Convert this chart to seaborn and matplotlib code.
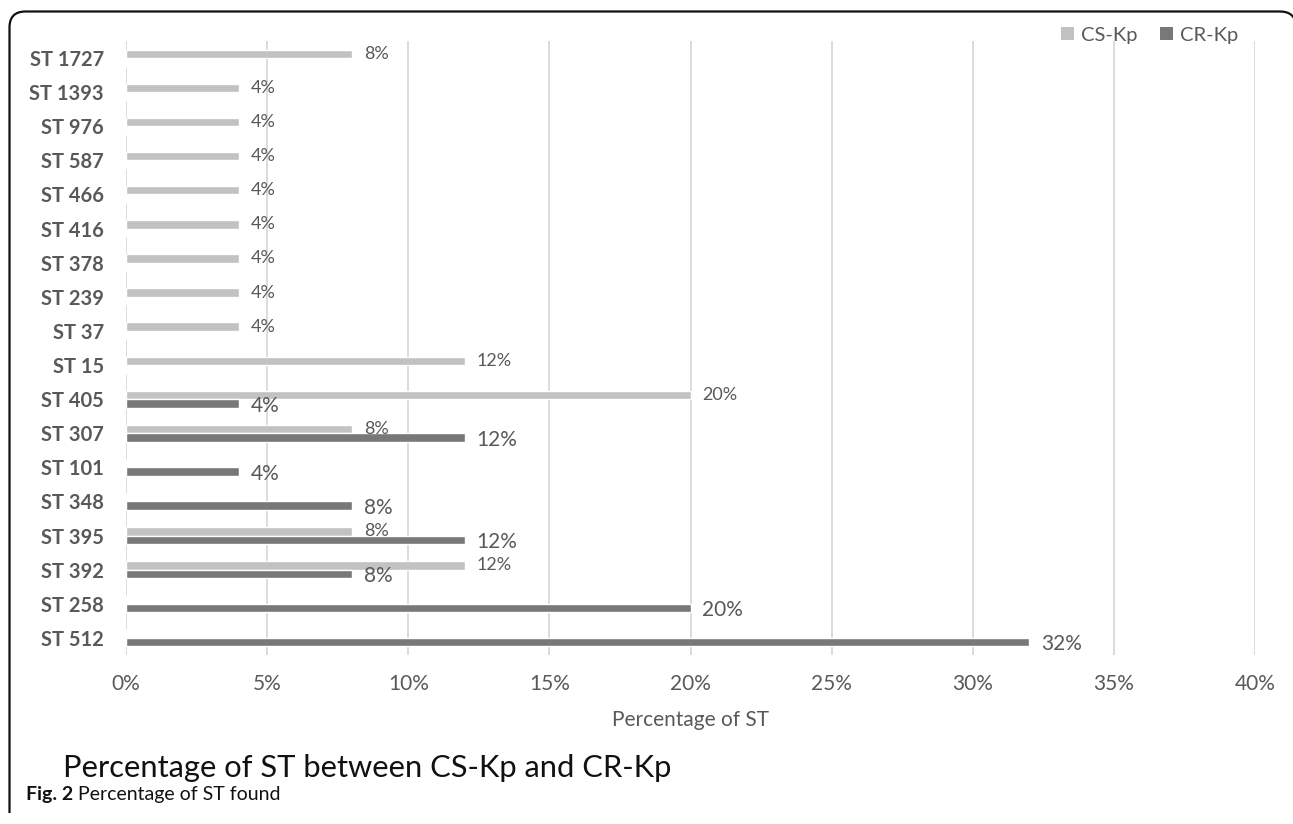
import matplotlib
matplotlib.use("Agg")
import matplotlib.pyplot as plt
import seaborn as sns
import pandas as pd
from matplotlib.path import Path
from matplotlib.patches import PathPatch, Patch
from matplotlib.ticker import PercentFormatter

# Sequence types, listed top to bottom
st_labels = ["ST 1727", "ST 1393", "ST 976", "ST 587", "ST 466", "ST 416",
             "ST 378", "ST 239", "ST 37", "ST 15", "ST 405", "ST 307",
             "ST 101", "ST 348", "ST 395", "ST 392", "ST 258", "ST 512"]
# Percentage of isolates per ST (0 = not found in that group)
cs_kp = [8, 4, 4, 4, 4, 4, 4, 4, 4, 12, 20, 8, 0, 0, 8, 12, 0, 0]
cr_kp = [0, 0, 0, 0, 0, 0, 0, 0, 0, 0, 4, 12, 4, 8, 12, 8, 20, 32]
groups = ["CS-Kp", "CR-Kp"]
x_ticks = [0, 5, 10, 15, 20, 25, 30, 35, 40]

df = pd.DataFrame({
    "st": st_labels * 2,
    "pct": cs_kp + cr_kp,
    "group": [groups[0]] * len(st_labels) + [groups[1]] * len(st_labels),
})

sns.set_theme(style="white")
plt.rcParams["font.family"] = ["Lato", "DejaVu Sans"]

LIGHT = "#C2C2C2"
DARK = "#787878"
TXT = "#595959"

W, H = 1293, 824
fig = plt.figure(figsize=(W / 100, H / 100), dpi=100)
ax = fig.add_axes([126 / W, 1 - 655 / H, (1255 - 126) / W, (655 - 41) / H])

sns.barplot(data=df, y="st", x="pct", hue="group", order=st_labels,
            hue_order=groups, palette=[LIGHT, DARK], orient="h",
            width=0.5, saturation=1, dodge=True, ax=ax, legend=False)

# value labels, skipping empty bars
sizes = [13, 15]
yoffs = [0, -1.5]
for cont, vals, fs, dy in zip(ax.containers, [cs_kp, cr_kp], sizes, yoffs):
    labels = [f"{v}%" if v else "" for v in vals]
    anns = ax.bar_label(cont, labels=labels, padding=8.6, fontsize=fs, color=TXT)
    for a in anns:
        a.xyann = (a.xyann[0], dy)

ax.set_xlim(0, 40)
ax.set_ylim(len(st_labels) - 0.5, -0.5)
ax.set_xticks(x_ticks)
ax.xaxis.set_major_formatter(PercentFormatter(xmax=100, decimals=0))
ax.grid(axis="x", color="#D9D9D9", linewidth=1.3)
ax.grid(axis="y", visible=False)
ax.set_axisbelow(True)
for s in ax.spines.values():
    s.set_visible(False)
ax.tick_params(axis="both", length=0)
ax.tick_params(axis="x", labelsize=15, labelcolor=TXT, pad=14)
ax.tick_params(axis="y", labelsize=14.5, labelcolor=TXT, pad=16)
for lbl in ax.get_yticklabels():
    lbl.set_fontweight("bold")
ax.set_ylabel("")
ax.set_xlabel("Percentage of ST", fontsize=15, color=TXT, labelpad=11)

handles = [Patch(facecolor=LIGHT, edgecolor="none"), Patch(facecolor=DARK, edgecolor="none")]
fig.legend(handles, groups, loc="center right", bbox_to_anchor=(1238 / W, 1 - 35 / H),
           ncol=2, frameon=False, fontsize=14.5, labelcolor=TXT, handlelength=0.65,
           handleheight=0.65, handletextpad=0.35, columnspacing=1.1,
           borderpad=0, borderaxespad=0)

fig.text(63 / W, 1 - 777 / H, "Percentage of ST between CS-Kp and CR-Kp",
         fontsize=22.2, color="#111111", va="baseline", ha="left")

t1 = fig.text(26 / W, 1 - 800 / H, "Fig. 2", fontsize=14, fontweight="bold",
              color="#111111", va="baseline", ha="left")
fig.add_artist(plt.Annotation(" Percentage of ST found", xy=(1, 0), xycoords=t1,
                              va="bottom", ha="left", fontsize=14, color="#111111"))

# rounded frame around the panel, open at the bottom
r = 16
x0, x1, y0, yb = 9.5, 1296, 11.5, 813
pts = [(x0, yb), (x0, y0 + r), (x0, y0), (x0 + r, y0), (x1 - r, y0), (x1, y0), (x1, y0 + r), (x1, yb)]
codes = [Path.MOVETO, Path.LINETO, Path.CURVE3, Path.CURVE3, Path.LINETO,
         Path.CURVE3, Path.CURVE3, Path.LINETO]
pts_fig = [(px / W, 1 - py / H) for px, py in pts]
frame = PathPatch(Path(pts_fig, codes), transform=fig.transFigure, fill=False,
                  edgecolor="#111111", linewidth=1.6, clip_on=False)
fig.add_artist(frame)

fig.savefig("out.png", dpi=100)
